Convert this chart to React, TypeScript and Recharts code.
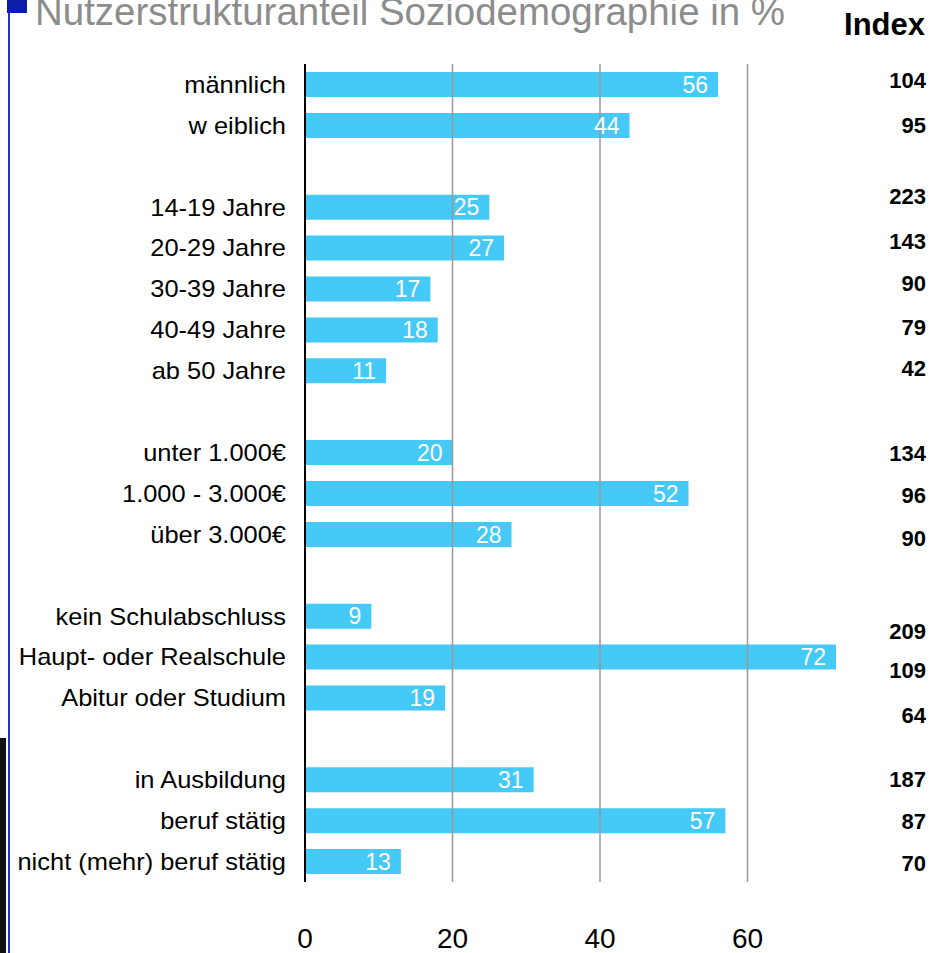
import React from 'react';
import { BarChart, Bar, XAxis, YAxis, ReferenceLine, LabelList } from 'recharts';

const categories = [
  'männlich', 'w eiblich', '',
  '14-19 Jahre', '20-29 Jahre', '30-39 Jahre', '40-49 Jahre', 'ab 50 Jahre', '',
  'unter 1.000€', '1.000 - 3.000€', 'über 3.000€', '',
  'kein Schulabschluss', 'Haupt- oder Realschule', 'Abitur oder Studium', '',
  'in Ausbildung', 'beruf stätig', 'nicht (mehr) beruf stätig',
];
const shares: (number | null)[] = [
  56, 44, null,
  25, 27, 17, 18, 11, null,
  20, 52, 28, null,
  9, 72, 19, null,
  31, 57, 13,
];
const indexValues: (number | null)[] = [
  104, 95, null,
  223, 143, 90, 79, 42, null,
  134, 96, 90, null,
  209, 109, 64, null,
  187, 87, 70,
];
const xTicks = [0, 20, 40, 60];
const gridValues = [20, 40, 60];

const TITLE = 'Nutzerstrukturanteil Soziodemographie in %';
const INDEX_HEADER = 'Index';

// vertical nudges of the index labels relative to their row (style only)
const INDEX_DY = [-4, 0, 0, -11, -7, -6, -3, -2, 0, 1, 2, 4, 0, 15, 13, 17, 0, 0, 1, 2];

const data = categories.map((c, i) => ({ key: 'r' + i, label: c, value: shares[i], idx: indexValues[i] }));

const FONT = '"Liberation Sans", Arial, sans-serif';

const LeftTick = (props: any) => {
  const { x, y, payload } = props;
  const i = Number(String(payload.value).slice(1));
  return (
    <text
      transform={`translate(${x},${y}) scale(1.06,1)`}
      x={0}
      y={0}
      dy="0.35em"
      textAnchor="end"
      fontSize={24}
      fill="#000"
      fontFamily={FONT}
    >
      {categories[i]}
    </text>
  );
};

const RightTick = (props: any) => {
  const { x, y, payload } = props;
  const i = Number(String(payload.value).slice(1));
  const v = indexValues[i];
  if (v == null) return null;
  return (
    <text x={x + 90} y={y + INDEX_DY[i]} dy="0.35em" textAnchor="end" fontSize={22} fontWeight="bold" fill="#000" fontFamily={FONT}>
      {v}
    </text>
  );
};

export default function App() {
  return (
    <div style={{ position: 'absolute', left: 0, top: 0, width: 944, height: 953, background: '#fff', fontFamily: FONT }}>
      <BarChart
        width={944}
        height={953}
        data={data}
        layout="vertical"
        margin={{ top: 64, right: 0, bottom: 0, left: 0 }}
        barCategoryGap={16}
      >
        <XAxis
          type="number"
          domain={[0, 72]}
          ticks={xTicks}
          axisLine={false}
          tickLine={false}
          tickSize={0}
          tickMargin={46}
          height={71}
          interval={0}
          tick={{ fontSize: 28, fill: '#000', fontFamily: FONT }}
        />
        <YAxis
          yAxisId="left"
          type="category"
          dataKey="key"
          width={305}
          axisLine={{ stroke: '#000', strokeWidth: 2 }}
          tickLine={false}
          tickSize={0}
          tickMargin={19}
          interval={0}
          tick={<LeftTick />}
        />
        <YAxis
          yAxisId="right"
          orientation="right"
          type="category"
          dataKey="key"
          width={108}
          axisLine={false}
          tickLine={false}
          tickSize={0}
          tickMargin={0}
          interval={0}
          tick={<RightTick />}
        />
        {gridValues.map((g) => (
          <ReferenceLine key={g} x={g} yAxisId="left" stroke="#999" strokeWidth={1.5} />
        ))}
        <Bar yAxisId="left" dataKey="value" fill="#45c9f6" barSize={25} isAnimationActive={false}>
          <LabelList
            dataKey="value"
            position="insideRight"
            offset={10}
            fill="#fff"
            fontSize={23}
            fontFamily={FONT}
            formatter={(v: any) => (v == null ? '' : v)}
          />
        </Bar>
      </BarChart>
      <svg width={944} height={953} style={{ position: 'absolute', left: 0, top: 0, pointerEvents: 'none' }}>
        <rect x={0} y={738} width={6} height={215} fill="#111" />
        <rect x={8} y={0} width={2} height={953} fill="#2236bf" />
        <rect x={7} y={0} width={20} height={13} fill="#0a1fa6" />
        <text x={35} y={25} fontSize={38} textLength={750} lengthAdjust="spacingAndGlyphs" fill="#8c8c8c" fontFamily={FONT}>{TITLE}</text>
        <text x={925} y={35} fontSize={31} fontWeight="bold" textAnchor="end" fill="#000" fontFamily={FONT}>{INDEX_HEADER}</text>
      </svg>
    </div>
  );
}
